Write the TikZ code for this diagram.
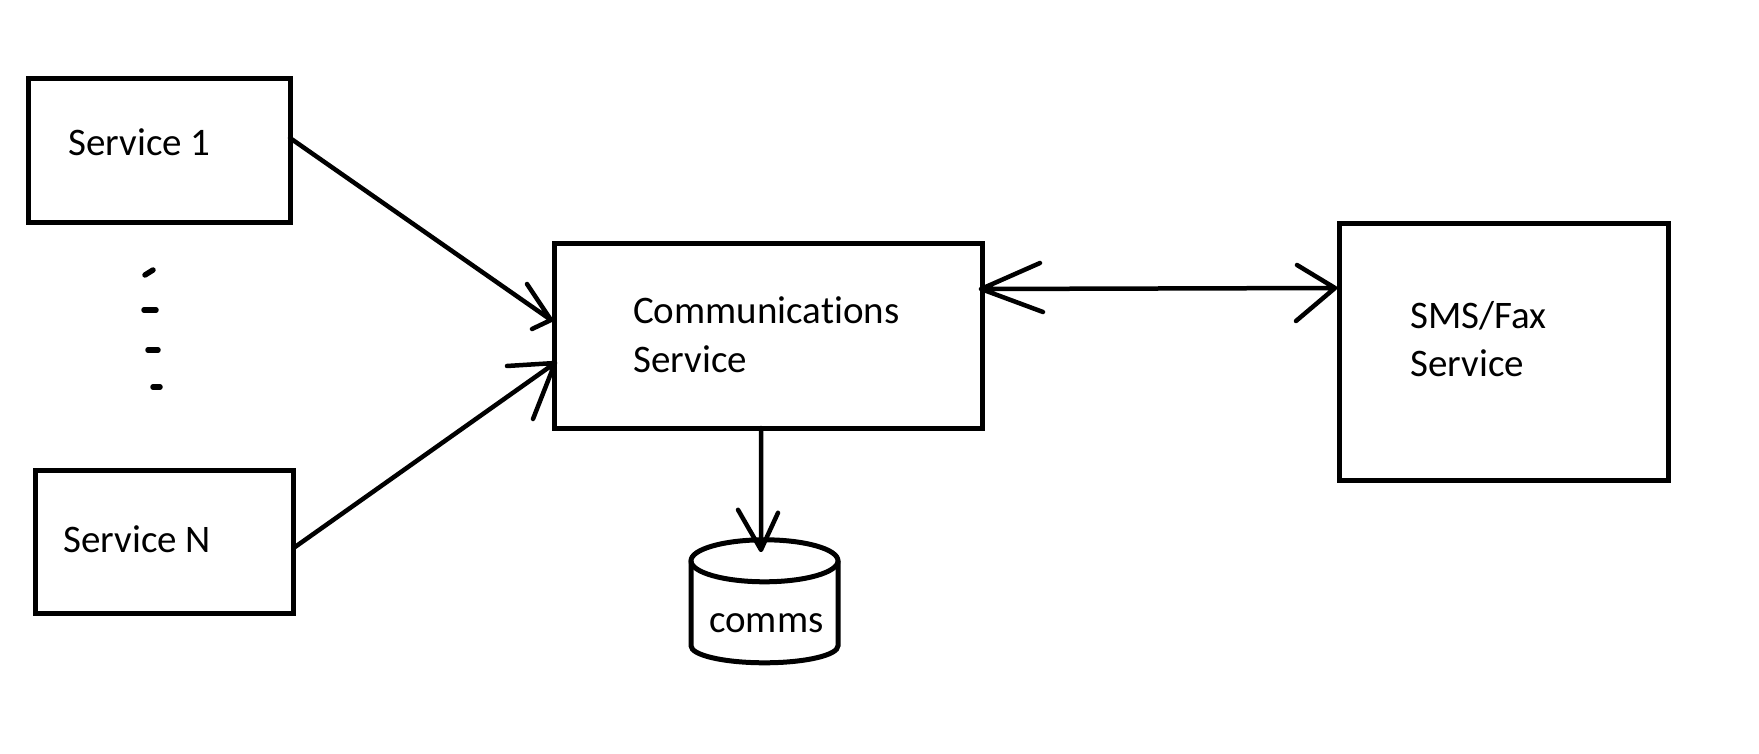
\documentclass[tikz,border=0pt]{standalone}
\usepackage{fontspec}
\setmainfont{Carlito}[Ligatures={NoCommon,NoRare,NoDiscretionary}]
\usetikzlibrary{calc}
\begin{document}
\begin{tikzpicture}[x=1pt,y=-1pt,
  box/.style={draw, line width=5pt, inner sep=0pt, outer sep=0pt},
  outline/.style={line width=5pt},
  txt/.style={anchor=base west, inner sep=0pt, font=\fontsize{39}{47}\selectfont},
  conn/.style={line width=4.5pt, line cap=round, line join=round},
  ellip/.style={line width=5.5pt, line cap=round}]
\useasboundingbox (0,0) rectangle (1759,754);
\fill[white] (0,0) rectangle (1759,754);

% service boxes
\node[box, minimum width=262pt, minimum height=144pt] (s1) at (159,151) {};
\node[box, minimum width=258pt, minimum height=143pt] (sN) at (164,541.5) {};
\node[box, minimum width=428pt, minimum height=184pt] (comm) at (768,336) {};
\node[box, minimum width=329pt, minimum height=256pt] (sms) at (1503.5,352) {};
\node[inner sep=0pt, minimum width=147pt, minimum height=122pt] (db) at (764.5,601) {};

% labels
\node[txt] (s1t) at (68,156) {Service 1};
\node[txt] (sNt) at (63,552) {Service N};
\node[txt] (commt1) at (633,323) {Communications};
\node[txt] (commt2) at (633,372) {Service};
\node[txt] (smst1) at (1410,328) {SMS/Fax};
\node[txt] (smst2) at (1410,376) {Service};
\node[txt] (dbt) at (709,632) {comms};

% ellipsis between the service boxes
\draw[ellip] (145,275) -- (153,270);
\draw[ellip] (144,310) -- (156,310);
\draw[ellip] (148,350) -- (158,350);
\draw[ellip] (153,387) -- (160,387);

% database cylinder
\draw[outline] ($(db.north)+(0,21)$) ellipse [x radius=73.5pt, y radius=21pt];
\draw[outline] ($(db.north)+(-73.5,21)$) -- ++(0,85)
  arc [start angle=180, end angle=360, x radius=73.5pt, y radius=17pt] -- ++(0,-85);

% connectors with open hand-drawn heads
\draw[conn] ($(s1.east)+(0,-13)$) -- ($(comm.west)+(-3,-16)$) coordinate (t1)
  -- ++(-24,-36) (t1) -- ++(-19,9);
\draw[conn] ($(sN.east)+(2,5.5)$) -- ($(comm.west)+(1,27)$) coordinate (t2)
  -- ++(-48,3) (t2) -- ++(-22,56);
\draw[conn] ($(comm.east)+(-1,-47)$) coordinate (t3) -- ($(sms.west)+(-4,-64)$) coordinate (t4)
  -- ++(-38,-23) (t4) -- ++(-39,33)
  (t3) -- ++(59,-26) (t3) -- ++(62,23);
\draw[conn] ($(comm.south)+(-7,0)$) -- ($(db.north)+(-3.5,10)$) coordinate (t5)
  -- ++(-23,-40) (t5) -- ++(17,-37);
\end{tikzpicture}
\end{document}
